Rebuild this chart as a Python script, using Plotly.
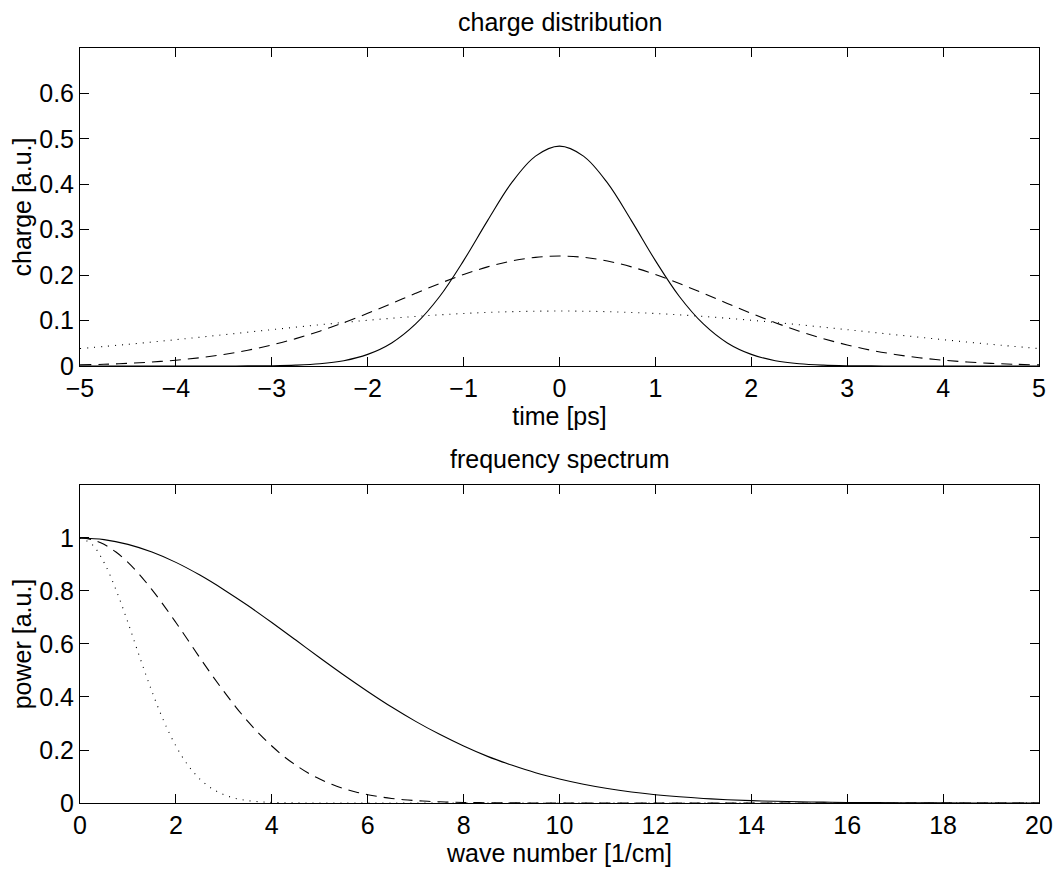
import plotly.graph_objects as go

# ---- top panel: charge distribution ----
t_fine = [-5.0, -4.75, -4.5, -4.25, -4.0, -3.75, -3.5, -3.25, -3.0, -2.75, -2.5, -2.25, -2.0, -1.75,
          -1.5, -1.25, -1.0, -0.75, -0.5, -0.25, 0.0, 0.25, 0.5, 0.75, 1.0, 1.25, 1.5, 1.75, 2.0,
          2.25, 2.5, 2.75, 3.0, 3.25, 3.5, 3.75, 4.0, 4.25, 4.5, 4.75, 5.0]
charge_solid_half = [0.484, 0.462, 0.403, 0.320, 0.232, 0.153, 0.0926, 0.0508, 0.0256, 0.0117,
                     0.0049, 0.0019, 0.00065, 0.0002, 0.00005, 0.0, 0.0, 0.0, 0.0, 0.0, 0.0]
charge_dashed_half = [0.242, 0.2392, 0.2311, 0.2182, 0.2014, 0.1816, 0.1600, 0.1378, 0.1160, 0.0954,
                      0.0767, 0.0603, 0.0463, 0.0347, 0.0255, 0.0182, 0.0128, 0.0088, 0.0059, 0.0038, 0.0024]
charge_solid = charge_solid_half[::-1] + charge_solid_half[1:]
charge_dashed = charge_dashed_half[::-1] + charge_dashed_half[1:]

t_coarse = [-5.0, -4.5, -4.0, -3.5, -3.0, -2.5, -2.0, -1.5, -1.0, -0.5, 0.0,
            0.5, 1.0, 1.5, 2.0, 2.5, 3.0, 3.5, 4.0, 4.5, 5.0]
charge_dotted_half = [0.121, 0.1196, 0.1156, 0.1091, 0.1007, 0.0908, 0.0800, 0.0689, 0.0580, 0.0477, 0.0384]
charge_dotted = charge_dotted_half[::-1] + charge_dotted_half[1:]

# ---- bottom panel: frequency spectrum ----
k_solid = [0, 0.5, 1, 1.5, 2, 2.5, 3, 3.5, 4, 4.5, 5, 5.5, 6, 6.5, 7, 7.5, 8, 8.5, 9, 9.5, 10,
           10.5, 11, 11.5, 12, 12.5, 13, 13.5, 14, 14.5, 15, 15.5, 16, 17, 18, 19, 20]
power_solid = [1.0, 0.994, 0.976, 0.947, 0.908, 0.860, 0.805, 0.745, 0.681, 0.615, 0.548, 0.483,
               0.421, 0.362, 0.308, 0.259, 0.215, 0.176, 0.143, 0.114, 0.0904, 0.0707, 0.0545,
               0.0416, 0.0314, 0.0234, 0.0172, 0.0125, 0.0090, 0.0064, 0.0045, 0.0031, 0.0021,
               0.0010, 0.0004, 0.0002, 0.0001]
k_dashed = [0, 0.25, 0.5, 0.75, 1, 1.25, 1.5, 1.75, 2, 2.25, 2.5, 2.75, 3, 3.25, 3.5, 3.75, 4,
            4.25, 4.5, 4.75, 5, 5.25, 5.5, 5.75, 6, 6.25, 6.5, 6.75, 7, 7.25, 7.5, 7.75, 8, 8.5,
            9, 9.5, 10, 12, 14, 16, 18, 20]
power_dashed = [1.0, 0.994, 0.976, 0.947, 0.908, 0.860, 0.805, 0.745, 0.681, 0.615, 0.548, 0.483,
                0.421, 0.362, 0.308, 0.259, 0.215, 0.176, 0.143, 0.114, 0.0904, 0.0707, 0.0545,
                0.0416, 0.0314, 0.0234, 0.0172, 0.0125, 0.0090, 0.0064, 0.0045, 0.0031, 0.0021,
                0.0010, 0.0004, 0.0002, 0.0, 0.0, 0.0, 0.0, 0.0, 0.0]
k_dotted = [0, 0.25, 0.5, 0.75, 1, 1.25, 1.5, 1.75, 2, 2.25, 2.5, 2.75, 3, 3.25, 3.5, 3.75, 4,
            4.5, 5, 6, 8, 10, 12, 14, 16, 18, 20]
power_dotted = [1.0, 0.976, 0.908, 0.805, 0.681, 0.548, 0.421, 0.308, 0.215, 0.143, 0.0904,
                0.0545, 0.0314, 0.0172, 0.0090, 0.0045, 0.0021, 0.0004, 0.0001, 0.0, 0.0, 0.0,
                0.0, 0.0, 0.0, 0.0, 0.0]

x_top_ticks = [-5, -4, -3, -2, -1, 0, 1, 2, 3, 4, 5]
y_top_ticks = [0, 0.1, 0.2, 0.3, 0.4, 0.5, 0.6]
x_bot_ticks = [0, 2, 4, 6, 8, 10, 12, 14, 16, 18, 20]
y_bot_ticks = [0, 0.2, 0.4, 0.6, 0.8, 1]

FONT = "Liberation Sans, Arial, Helvetica, sans-serif"
LW = 1.1
FS = 25

fig = go.Figure()
fig.add_trace(go.Scatter(x=t_fine, y=charge_solid, mode="lines", line=dict(color="black", width=LW, shape="spline"), xaxis="x", yaxis="y"))
fig.add_trace(go.Scatter(x=t_fine, y=charge_dashed, mode="lines", line=dict(color="black", width=LW, dash="11px,7px", shape="spline"), xaxis="x", yaxis="y"))
fig.add_trace(go.Scatter(x=t_coarse, y=charge_dotted, mode="lines", line=dict(color="black", width=LW, dash="1px,6px", shape="spline"), xaxis="x", yaxis="y"))
fig.add_trace(go.Scatter(x=k_solid, y=power_solid, mode="lines", line=dict(color="black", width=LW, shape="spline"), xaxis="x2", yaxis="y2"))
fig.add_trace(go.Scatter(x=k_dashed, y=power_dashed, mode="lines", line=dict(color="black", width=LW, dash="11px,7px", shape="spline"), xaxis="x2", yaxis="y2"))
fig.add_trace(go.Scatter(x=k_dotted, y=power_dotted, mode="lines", line=dict(color="black", width=LW, dash="1px,6px", shape="spline"), xaxis="x2", yaxis="y2"))

axis_common = dict(showline=True, linecolor="black", linewidth=1, mirror="ticks", ticks="inside",
                   ticklen=9, tickcolor="black", tickwidth=1, showgrid=False, zeroline=False,
                   automargin=False, tickfont=dict(family=FONT, size=FS, color="black"))

fig.update_layout(
    width=1056, height=869,
    paper_bgcolor="white", plot_bgcolor="white",
    showlegend=False,
    margin=dict(l=80, r=17, t=48, b=66),
    font=dict(family=FONT, color="black"),
    xaxis=dict(domain=[0, 1], range=[-5, 5], tickvals=x_top_ticks, anchor="y",
               title=dict(text="time [ps]", font=dict(size=FS), standoff=0), **axis_common),
    yaxis=dict(domain=[0.5788, 1], range=[0, 0.7], tickvals=y_top_ticks, anchor="x",
               title=dict(text="charge [a.u.]", font=dict(size=FS), standoff=0), **axis_common),
    xaxis2=dict(domain=[0, 1], range=[0, 20], tickvals=x_bot_ticks, anchor="y2",
                title=dict(text="wave number [1/cm]", font=dict(size=FS), standoff=4), **axis_common),
    yaxis2=dict(domain=[0, 0.4212], range=[0, 1.2], tickvals=y_bot_ticks, anchor="x2",
                title=dict(text="power [a.u.]", font=dict(size=FS), standoff=0), **axis_common),
    annotations=[
        dict(text="charge distribution", xref="paper", yref="paper", x=0.5, y=1, yshift=10,
             xanchor="center", yanchor="bottom", showarrow=False, font=dict(family=FONT, size=FS, color="black")),
        dict(text="frequency spectrum", xref="paper", yref="paper", x=0.5, y=0.4212, yshift=10,
             xanchor="center", yanchor="bottom", showarrow=False, font=dict(family=FONT, size=FS, color="black")),
    ],
)

fig.write_html("out.html", config={"displayModeBar": False},
               post_script="document.body.style.margin='0';document.body.style.overflow='hidden';")
